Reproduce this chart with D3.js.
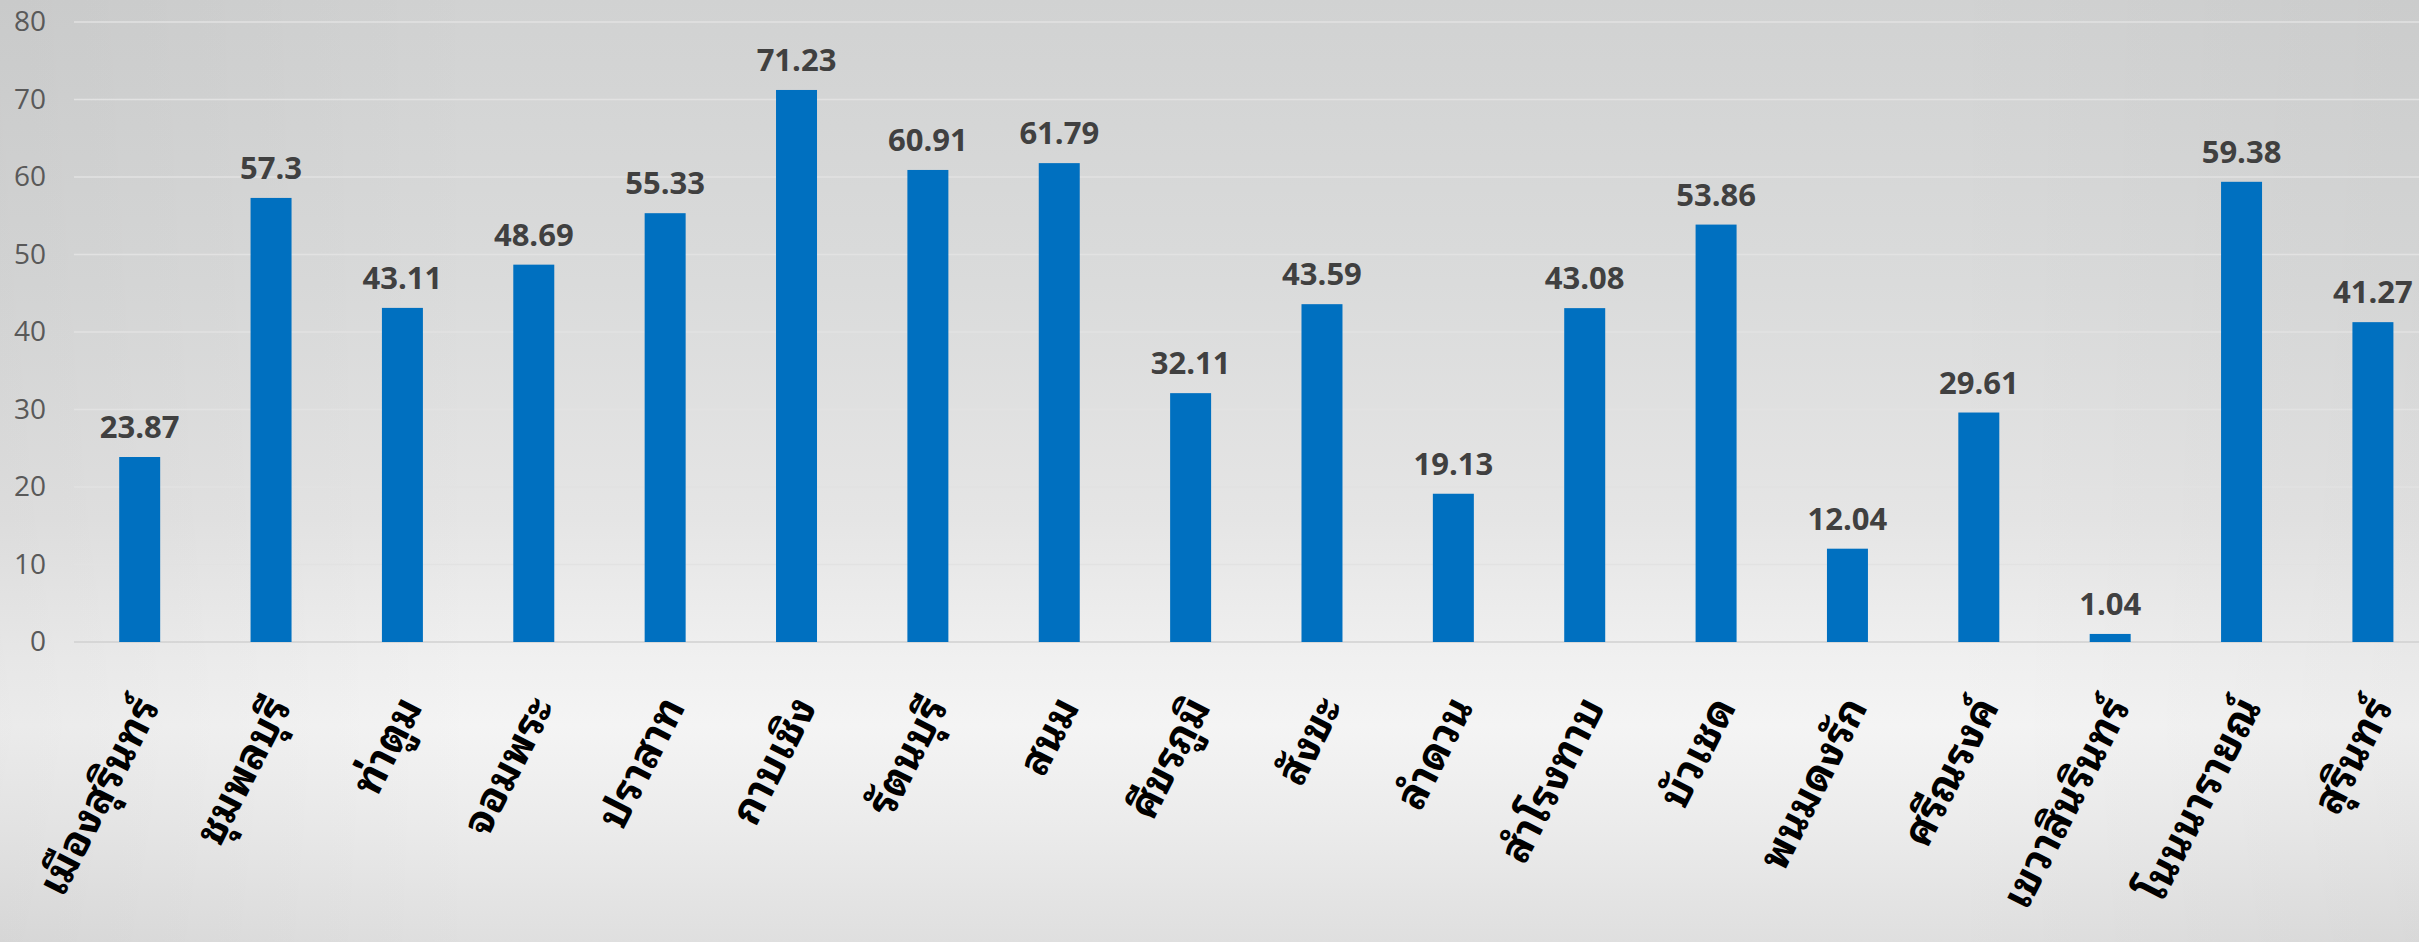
<!DOCTYPE html>
<html>
<head>
<meta charset="utf-8">
<script src="https://cdn.jsdelivr.net/npm/d3@7"></script>
<style>
  html, body { margin: 0; padding: 0; background: #e6e6e6; }
  svg { display: block; }
</style>
</head>
<body>
<svg id="chart" width="2419" height="942"></svg>
<script>
// District names (Surin province) and their values
const districts = [
  "เมืองสุรินทร์", "ชุมพลบุรี", "ท่าตูม", "จอมพระ", "ปราสาท", "กาบเชิง",
  "รัตนบุรี", "สนม", "ศีขรภูมิ", "สังขะ", "ลำดวน", "สำโรงทาบ",
  "บัวเชด", "พนมดงรัก", "ศรีณรงค์", "เขวาสินรินทร์", "โนนนารายณ์", "สุรินทร์"
];
const values = [
  23.87, 57.3, 43.11, 48.69, 55.33, 71.23,
  60.91, 61.79, 32.11, 43.59, 19.13, 43.08,
  53.86, 12.04, 29.61, 1.04, 59.38, 41.27
];
const yTicks = [0, 10, 20, 30, 40, 50, 60, 70, 80];

const W = 2419, H = 942;
const svg = d3.select("#chart");

// Soft gray backdrop
const defs = svg.append("defs");
const bg = defs.append("linearGradient").attr("id", "bg")
  .attr("x1", 0).attr("y1", 0).attr("x2", 0).attr("y2", 1);
[[0, "#d1d2d2"], [0.3, "#dadbdb"], [0.55, "#e5e5e5"], [0.7, "#f0f0f0"],
 [0.77, "#f4f4f4"], [0.88, "#ebebeb"], [1, "#dfdfdf"]]
  .forEach(([o, c]) => bg.append("stop").attr("offset", o).attr("stop-color", c));
const side = defs.append("linearGradient").attr("id", "side")
  .attr("x1", 0).attr("y1", 0).attr("x2", 1).attr("y2", 0);
[[0, "#000", 0.04], [0.2, "#000", 0], [0.8, "#000", 0], [1, "#000", 0.03]]
  .forEach(([o, c, a]) => side.append("stop").attr("offset", o)
    .attr("stop-color", c).attr("stop-opacity", a));
svg.append("rect").attr("width", W).attr("height", H).attr("fill", "url(#bg)");
svg.append("rect").attr("width", W).attr("height", H).attr("fill", "url(#side)");

// Scales
const plotLeft = 74, plotRight = 2438.6;
const x = d3.scaleBand().domain(districts)
  .range([plotLeft, plotRight]).paddingInner(0.688).paddingOuter(0.344);
const y = d3.scaleLinear().domain([0, 80]).range([642, 22]);

// Horizontal gridlines
svg.append("g").selectAll("line").data(yTicks).join("line")
  .attr("x1", plotLeft).attr("x2", plotRight)
  .attr("y1", d => y(d)).attr("y2", d => y(d))
  .attr("stroke", d => d === 0 ? "#d0d0d0" : "#e2e2e2")
  .attr("stroke-width", 1.6);

// Y axis labels
const yAxis = svg.append("g").attr("transform", "translate(46,0)")
  .call(d3.axisLeft(y).tickValues(yTicks).tickSize(0).tickPadding(0));
yAxis.select(".domain").remove();
yAxis.selectAll("text")
  .attr("font-family", "'Open Sans', sans-serif")
  .attr("font-size", 28)
  .attr("fill", "#595959");

// Bars
svg.append("g").selectAll("rect").data(values).join("rect")
  .attr("x", (d, i) => x(districts[i]))
  .attr("width", x.bandwidth())
  .attr("y", d => y(d))
  .attr("height", d => y(0) - y(d))
  .attr("fill", "#0070c0");

// Value labels above bars
svg.append("g").selectAll("text").data(values).join("text")
  .attr("x", (d, i) => x(districts[i]) + x.bandwidth() / 2)
  .attr("y", d => y(d) - 19)
  .attr("text-anchor", "middle")
  .attr("font-family", "'Open Sans', sans-serif")
  .attr("font-weight", 700)
  .attr("font-size", 31)
  .attr("fill", "#404040")
  .text(d => String(d));

// Rotated district names under the axis
svg.append("g").selectAll("text").data(districts).join("text")
  .attr("transform", d => `translate(${x(d) + x.bandwidth() / 2 + 4},698) rotate(-63)`)
  .attr("text-anchor", "end")
  .attr("dominant-baseline", "central")
  .attr("font-family", "'Noto Sans Thai Looped', 'Noto Sans Thai', Tahoma, 'Leelawadee UI', 'Noto Sans', sans-serif")
  .attr("font-weight", 700)
  .attr("font-size", 42)
  .attr("fill", "#000")
  .text(d => d);
</script>
</body>
</html>
